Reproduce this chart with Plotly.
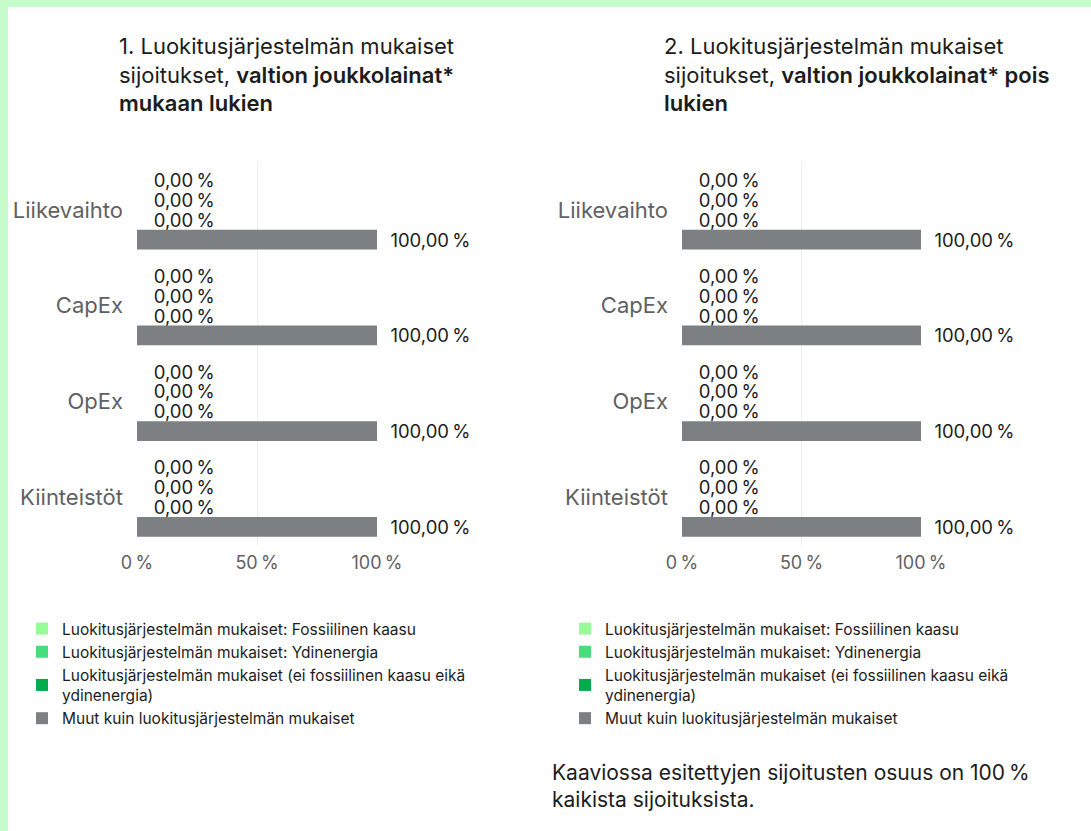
import plotly.graph_objects as go

# ---------------- data ----------------
categories = ["Liikevaihto", "CapEx", "OpEx", "Kiinteistöt"]
series_names = [
    "Luokitusjärjestelmän mukaiset: Fossiilinen kaasu",
    "Luokitusjärjestelmän mukaiset: Ydinenergia",
    "Luokitusjärjestelmän mukaiset (ei fossiilinen kaasu eikä<br>ydinenergia)",
    "Muut kuin luokitusjärjestelmän mukaiset",
]
series_colors = ["#97fb98", "#46dd7c", "#00ac4c", "#7d8083"]

incl_fossil_gas = [0.0, 0.0, 0.0, 0.0]
incl_nuclear = [0.0, 0.0, 0.0, 0.0]
incl_aligned_other = [0.0, 0.0, 0.0, 0.0]
incl_not_aligned = [100.0, 100.0, 100.0, 100.0]

excl_fossil_gas = [0.0, 0.0, 0.0, 0.0]
excl_nuclear = [0.0, 0.0, 0.0, 0.0]
excl_aligned_other = [0.0, 0.0, 0.0, 0.0]
excl_not_aligned = [100.0, 100.0, 100.0, 100.0]

x_tick_vals = [0, 50, 100]
x_tick_text = ["0\u202f%", "50\u202f%", "100\u202f%"]

SB = "<span style='font-weight:600'>"
title_left = "1. Luokitusjärjestelmän mukaiset<br>sijoitukset, " + SB + "valtion joukkolainat*</span><br>" + SB + "mukaan lukien</span>"
title_right = "2. Luokitusjärjestelmän mukaiset<br>sijoitukset, " + SB + "valtion joukkolainat* pois</span><br>" + SB + "lukien</span>"
note_text = "Kaaviossa esitettyjen sijoitusten osuus on 100\u202f%<br>kaikista sijoituksista."

# ---------------- figure ----------------
W, H = 1091, 831
FONT = "Inter, Roboto, sans-serif"
TEXT_DARK = "#1c1c1c"
TICK_GRAY = "#5f6163"


def px_x(p):
    return p / W


def px_y(p):
    return 1 - p / H


# label lead-in spacing per series (zero-length bars sit a little further out)
label_prefix = ["\u00a0\u00a0\u2009", "\u00a0\u00a0\u2009", "\u00a0\u00a0\u2009", "\u00a0\u00a0"]

fig = go.Figure()

panels = [
    ([incl_fossil_gas, incl_nuclear, incl_aligned_other, incl_not_aligned], "x", "y", "legend"),
    ([excl_fossil_gas, excl_nuclear, excl_aligned_other, excl_not_aligned], "x2", "y2", "legend2"),
]

for values_list, xa, ya, lg in panels:
    for name, color, vals, pre in zip(series_names, series_colors, values_list, label_prefix):
        fig.add_trace(go.Bar(
            y=categories,
            x=vals,
            name=name,
            orientation="h",
            marker=dict(color=color, line=dict(width=0)),
            xaxis=xa,
            yaxis=ya,
            legend=lg,
            texttemplate=pre + "%{x:.2f}\u202f%",
            textposition="outside",
            constraintext="none",
            cliponaxis=False,
            textfont=dict(family=FONT, size=18.5, color=TEXT_DARK),
            hoverinfo="skip",
        ))

common_x = dict(
    range=[0, 100],
    tickvals=x_tick_vals,
    ticktext=x_tick_text,
    showgrid=True,
    gridcolor="#ebebeb",
    gridwidth=1,
    zeroline=False,
    showline=False,
    ticks="",
    tickfont=dict(family=FONT, size=18, color=TICK_GRAY),
    fixedrange=True,
    automargin=False,
    ticklabelstandoff=5,
)
common_y = dict(
    autorange="reversed",
    showgrid=False,
    zeroline=False,
    showline=False,
    ticks="",
    tickfont=dict(family=FONT, size=22, color=TICK_GRAY),
    fixedrange=True,
    automargin=False,
    ticklabelstandoff=13,
    domain=[px_y(545), px_y(162)],
)

legend_common = dict(
    orientation="v",
    traceorder="normal",
    bgcolor="rgba(0,0,0,0)",
    font=dict(family=FONT, size=15.5, color=TEXT_DARK),
    xanchor="left",
    yanchor="top",
    itemclick=False,
    itemdoubleclick=False,
    tracegroupgap=0,
)

fig.update_layout(
    width=W,
    height=H,
    margin=dict(l=0, r=0, t=0, b=0),
    paper_bgcolor="white",
    plot_bgcolor="white",
    barmode="group",
    bargap=0.17,
    bargroupgap=0,
    separators=", ",
    font=dict(family=FONT, color=TEXT_DARK),
    xaxis=dict(domain=[px_x(137), px_x(377)], anchor="y", **common_x),
    xaxis2=dict(domain=[px_x(682), px_x(921)], anchor="y2", **common_x),
    yaxis=dict(anchor="x", **common_y),
    yaxis2=dict(anchor="x2", **common_y),
    legend=dict(x=px_x(22), y=px_y(612), **legend_common),
    legend2=dict(x=px_x(565), y=px_y(612), **legend_common),
    showlegend=True,
)

fig.add_annotation(
    x=px_x(117), y=px_y(31), xref="paper", yref="paper",
    xanchor="left", yanchor="top", align="left", showarrow=False,
    text=title_left, font=dict(family=FONT, size=22, color=TEXT_DARK),
)
fig.add_annotation(
    x=px_x(662), y=px_y(31), xref="paper", yref="paper",
    xanchor="left", yanchor="top", align="left", showarrow=False,
    text=title_right, font=dict(family=FONT, size=22, color=TEXT_DARK),
)
fig.add_annotation(
    x=px_x(550), y=px_y(758), xref="paper", yref="paper",
    xanchor="left", yanchor="top", align="left", showarrow=False,
    text=note_text, font=dict(family=FONT, size=21, color=TEXT_DARK),
)

# light green frame bands (top and left)
fig.add_shape(type="rect", xref="paper", yref="paper", x0=0, x1=1, y0=px_y(7), y1=1,
              fillcolor="#c6fbcc", line=dict(width=0), layer="above")
fig.add_shape(type="rect", xref="paper", yref="paper", x0=0, x1=px_x(8), y0=0, y1=1,
              fillcolor="#c6fbcc", line=dict(width=0), layer="above")

fig.write_html(
    "out.html",
    config={"displayModeBar": False},
    post_script="document.body.style.margin='0';document.body.style.overflow='hidden';",
)
